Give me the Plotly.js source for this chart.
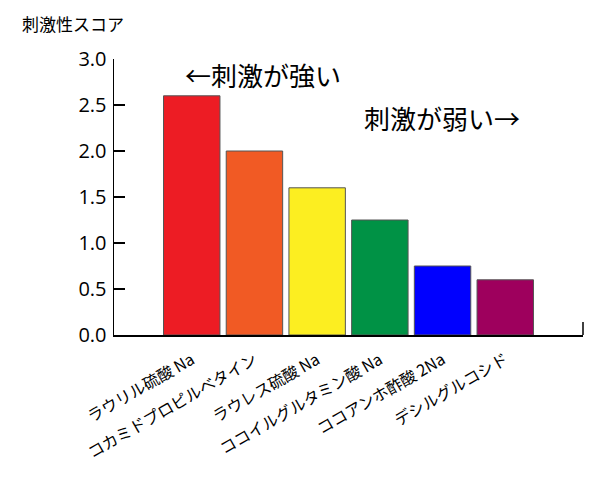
<!DOCTYPE html>
<html>
<head>
<meta charset="utf-8">
<script src="https://cdn.plot.ly/plotly-3.0.1.min.js"></script>
<style>html,body{margin:0;padding:0;background:#fff;}#chart{width:600px;height:494px;}</style>
</head>
<body>
<div id="chart"></div>
<script>
const categories = ["ラウリル硫酸 Na", "コカミドプロピルベタイン", "ラウレス硫酸 Na", "ココイルグルタミン酸 Na", "ココアンホ酢酸 2Na", "デシルグルコシド"];
const scores = [2.6, 2.0, 1.6, 1.25, 0.75, 0.6];
const barColors = ["#ED1C24", "#F15A24", "#FCEE21", "#009245", "#0000FF", "#9E005D"];
const yTickVals = [0, 0.5, 1.0, 1.5, 2.0, 2.5, 3.0];
const yTickText = ["0.0", "0.5", "1.0", "1.5", "2.0", "2.5", "3.0"];
const yTitle = "刺激性スコア";
const noteStrong = "←刺激が強い";
const noteWeak = "刺激が弱い→";

const FONT = "'Noto Sans CJK JP', 'Noto Sans', sans-serif";

const trace = {
  type: "bar",
  x: categories.map((c, i) => i),
  y: scores,
  width: 0.9,
  marker: { color: barColors, line: { color: "#555", width: 1 } },
  hoverinfo: "skip"
};

const layout = {
  width: 600, height: 494,
  margin: { l: 114, r: 17, t: 59, b: 159 },
  paper_bgcolor: "#fff", plot_bgcolor: "#fff",
  showlegend: false,
  font: { family: FONT, color: "#000" },
  xaxis: {
    range: [-1.24, 6.24],
    tickvals: categories.map((c, i) => i),
    ticktext: categories,
    tickangle: -30,
    ticks: "",
    ticklabelstandoff: 8,
    showline: true, linecolor: "#000", linewidth: 1.5,
    showgrid: false, zeroline: false,
    tickfont: { size: 16, family: FONT, color: "#000" },
    fixedrange: true
  },
  yaxis: {
    range: [0, 3.0],
    tickvals: yTickVals,
    ticktext: yTickText,
    ticks: "inside", ticklen: 11, tickwidth: 1.5, tickcolor: "#000",
    showline: true, linecolor: "#000", linewidth: 1.5,
    showgrid: false, zeroline: false,
    tickfont: { size: 20, family: "'Open Sans', 'Noto Sans', sans-serif", color: "#000" },
    ticklabelstandoff: 2,
    fixedrange: true
  },
  shapes: [
    { type: "line", xref: "paper", yref: "y", x0: 1, x1: 1, y0: 0, y1: 0.14, line: { color: "#000", width: 1.5 } }
  ],
  annotations: [
    { text: yTitle, xref: "paper", yref: "paper", x: -0.2, y: 1.13, xanchor: "left", yanchor: "middle", showarrow: false, font: { size: 17, family: FONT, color: "#000" } },
    { text: noteStrong, xref: "x", yref: "y", x: -0.14, y: 2.83, xanchor: "left", yanchor: "middle", showarrow: false, font: { size: 26, family: FONT, color: "#000" } },
    { text: noteWeak, xref: "x", yref: "y", x: 2.72, y: 2.36, xanchor: "left", yanchor: "middle", showarrow: false, font: { size: 26, family: FONT, color: "#000" } }
  ]
};

Plotly.newPlot("chart", [trace], layout, { displayModeBar: false, staticPlot: true });
</script>
</body>
</html>
